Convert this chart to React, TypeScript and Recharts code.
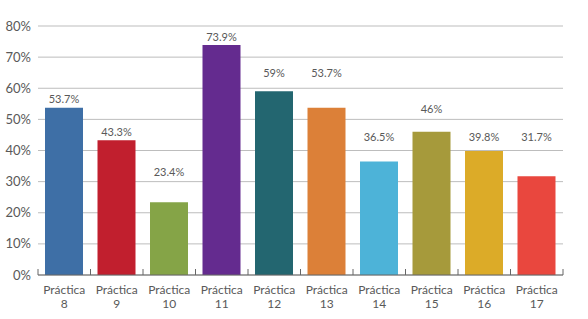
import React from 'react'
import { BarChart, Bar, XAxis, YAxis, CartesianGrid, Cell, LabelList } from 'recharts'

const practicas = ['8', '9', '10', '11', '12', '13', '14', '15', '16', '17']
const porcentajes = [53.7, 43.3, 23.4, 73.9, 59, 53.7, 36.5, 46, 39.8, 31.7]
const colores = ['#3e6fa6', '#c11f2e', '#85a447', '#642b8f', '#236670', '#dc8038', '#4db3d8', '#a69a3b', '#dcab28', '#e9473e']
const yTicks = [0, 10, 20, 30, 40, 50, 60, 70, 80]

// how far above the bar top each value label sits (px), as in the original layout
const LABEL_LIFT = [8.6, 7.9, 30, 8.3, 18, 34.6, 24.7, 22.8, 14.4, 39.6]

const FONT = 'Lato, "Open Sans", sans-serif'
const TEXT = '#595959'

const data = practicas.map((p, i) => ({ name: p, valor: porcentajes[i] }))

function PracticaTick(props: any) {
  const { x, y, payload, index } = props
  const half = payload?.offset ?? 26.25
  return (
    <g>
      <line x1={x - half} x2={x - half} y1={y - 6} y2={y} stroke="#666" strokeWidth={1} />
      {index === practicas.length - 1 && (
        <line x1={x + half} x2={x + half} y1={y - 6} y2={y} stroke="#666" strokeWidth={1} />
      )}
      <text x={x} y={y + 14.5} textAnchor="middle" dy="0.35em" fontSize={12} fill={TEXT} fontFamily={FONT}>
        Práctica
      </text>
      <text x={x} y={y + 28.5} textAnchor="middle" dy="0.35em" fontSize={12} fill={TEXT} fontFamily={FONT}>
        {payload.value}
      </text>
    </g>
  )
}

function ValorLabel(props: any) {
  const { x, y, width, value, index } = props
  return (
    <text
      x={x + width / 2}
      y={y - LABEL_LIFT[index]}
      dy="0.35em"
      textAnchor="middle"
      fontSize={11}
      fill={TEXT}
      fontFamily={FONT}
    >
      {`${value}%`}
    </text>
  )
}

export default function App() {
  return (
    <div style={{ position: 'absolute', left: 0, top: 0, background: '#fff' }}>
      <BarChart width={588} height={319} data={data} margin={{ top: 26, right: 25, bottom: 0, left: 0 }}>
        <CartesianGrid vertical={false} stroke="#bdbdbd" />
        <XAxis
          dataKey="name"
          height={44}
          tickLine={false}
          tickSize={0}
          tickMargin={0}
          axisLine={{ stroke: '#666' }}
          tick={<PracticaTick />}
          interval={0}
        />
        <YAxis
          domain={[0, 80]}
          ticks={yTicks}
          width={38}
          axisLine={false}
          tickLine={false}
          tickSize={0}
          tickMargin={7}
          tickFormatter={(v: number) => `${v}%`}
          tick={{ fontSize: 13, fill: TEXT, fontFamily: FONT }}
        />
        <Bar dataKey="valor" barSize={38} isAnimationActive={false}>
          {data.map((d, i) => (
            <Cell key={d.name} fill={colores[i]} />
          ))}
          <LabelList dataKey="valor" content={<ValorLabel />} />
        </Bar>
      </BarChart>
    </div>
  )
}
